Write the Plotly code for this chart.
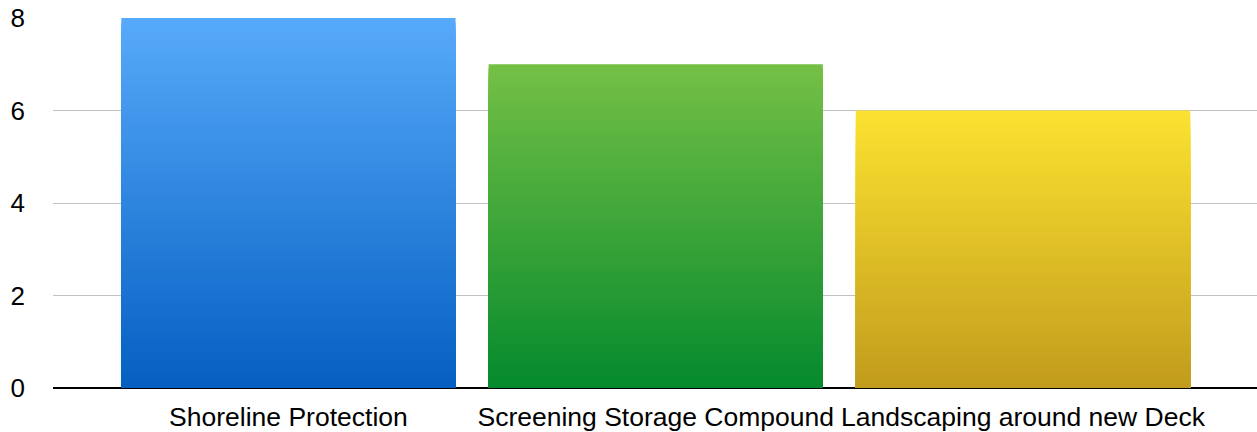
import plotly.graph_objects as go

categories = ["Shoreline Protection", "Screening Storage Compound", "Landscaping around new Deck"]
values = [8, 7, 6]
top_colors = [(0x57, 0xAA, 0xFA), (0x74, 0xC0, 0x45), (0xFB, 0xE2, 0x30)]
bottom_colors = [(0x05, 0x60, 0xC2), (0x05, 0x8A, 0x2D), (0xC2, 0x9C, 0x1D)]
y_ticks = [0, 2, 4, 6, 8]

N = 80
fig = go.Figure()

def mix(a, b, t):
    return "rgb(%d,%d,%d)" % tuple(round(a[i] + (b[i] - a[i]) * t) for i in range(3))

# gradient: draw full-height bars first (top colour), then progressively shorter, darker ones
for k in range(N):
    frac = (N - k) / N
    t = k / (N - 1)
    fig.add_trace(go.Bar(
        x=categories,
        y=[v * frac for v in values],
        marker=dict(color=[mix(top_colors[i], bottom_colors[i], t) for i in range(3)],
                    line=dict(width=0)),
        width=0.91,
        hoverinfo="skip",
        showlegend=False,
    ))

fig.update_layout(
    width=1257, height=432,
    margin=dict(l=53, r=0, t=18, b=44),
    barmode="overlay",
    plot_bgcolor="white",
    paper_bgcolor="white",
    font=dict(family="Liberation Sans, Arial, sans-serif", size=26, color="black"),
    xaxis=dict(
        range=[-0.641, 2.637],
        showgrid=False,
        showline=False,
        ticks="",
        tickfont=dict(size=26.5),
        ticklabelstandoff=10,
        fixedrange=True,
    ),
    yaxis=dict(
        range=[0, 8.001],
        tickvals=y_ticks,
        ticktext=[str(v) for v in y_ticks],
        showgrid=True,
        gridcolor="#C0C0C0",
        gridwidth=1,
        zeroline=True,
        zerolinecolor="black",
        zerolinewidth=2,
        showline=False,
        ticks="",
        ticklabelstandoff=27,
        tickfont=dict(size=26),
        fixedrange=True,
    ),
)

fig.write_html("out.html", config={"displayModeBar": False},
               post_script="document.body.style.margin='0';document.body.style.padding='0';")
